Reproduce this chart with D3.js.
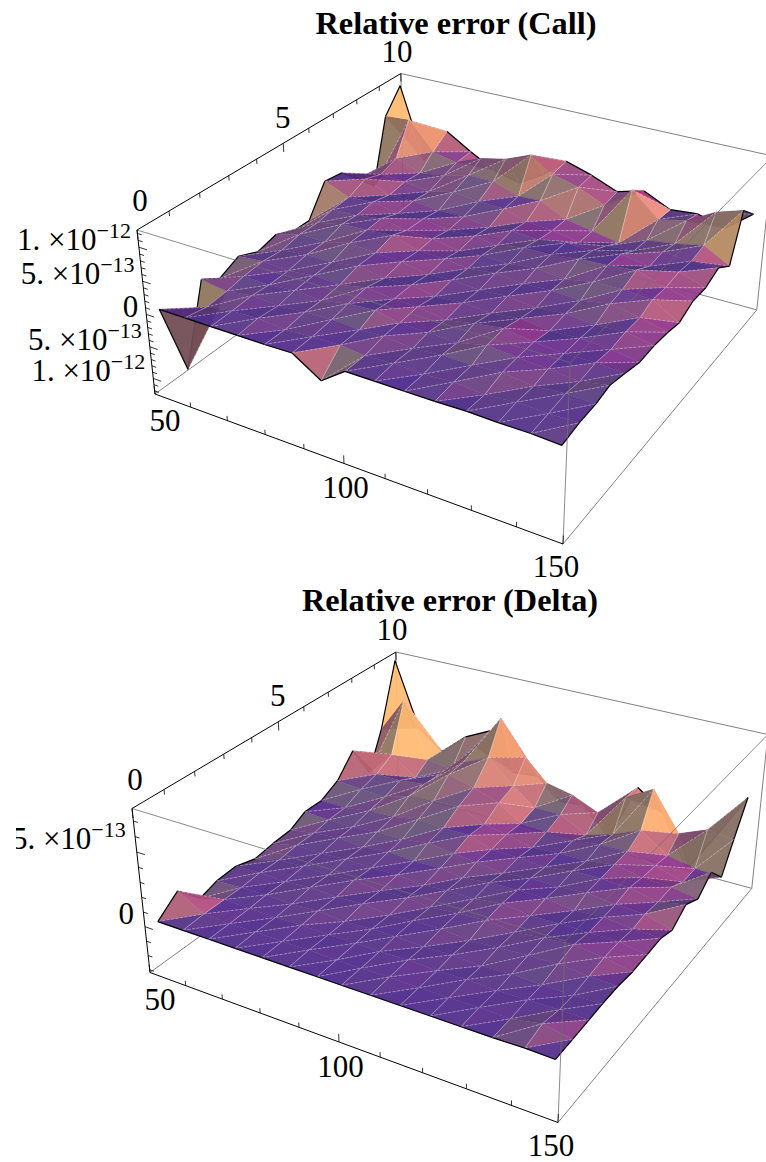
<!DOCTYPE html>
<html>
<head>
<meta charset="utf-8">
<script src="https://cdn.jsdelivr.net/npm/d3@7"></script>
<style>
  html, body { margin: 0; padding: 0; background: #fff; }
  svg { display: block; }
  text { font-family: "Liberation Serif", serif; fill: #000; }
</style>
</head>
<body>
<script>
// axis values of the grid points
var strikes = [51, 58, 65, 72, 79, 86, 93, 99, 106, 113, 120, 127, 134, 141, 147.5];
var maturities = [0.3, 1, 1.7, 2.3, 3, 3.7, 4.4, 5.1, 5.7, 6.4, 7.1, 7.8, 8.5, 9.1, 9.8];

// relative error in units of 1e-13, one row per maturity, front to back
var callErrors = [
  [0,0,0,0,0,.1,-2.6,0,0,0,0,.1,0,0,-.2],
  [-11.8,-.6,.1,.3,-.1,.2,.3,-.1,.2,0,.3,-.1,.3,.2,.3],
  [.3,-.3,.3,0,.3,.5,.3,.5,0,.4,.3,.7,.1,.5,.4],
  [-1.4,.2,.1,.5,.2,1,1.3,.5,.4,.2,1.2,.8,.5,.1,.9],
  [.1,.5,.2,.7,.5,1.3,.8,.7,0,.8,1.4,.7,.4,.4,.2],
  [-1.2,.2,.7,.7,1.3,.6,.8,.1,.4,.1,.6,.1,.3,0,-.6],
  [-.4,.8,.7,1.7,1.3,1.1,.3,.5,.2,.5,0,.4,0,.3,-.5],
  [-1.7,.7,1.6,1.8,2.1,.8,.7,.2,.7,.3,.5,.2,1,.2,-.8],
  [-1.7,1.2,1.4,2,1.2,1,.2,.5,.4,.9,.4,1.2,1.3,1,-1.3],
  [3,1.4,1.7,.9,1.1,.4,.6,.1,.9,1,1.5,1.7,2.2,.7,-.2],
  [2.6,2.6,1,1.1,.6,.7,.1,.5,.2,.8,.8,1.4,.7,1,-.3],
  [-.2,1.6,1.4,.8,1.8,1.3,1.2,0,-.3,-1.1,-.5,-.1,.9,.6,.7],
  [-3.3,2.6,1.1,1.7,2.8,2.8,1.4,1.6,-.4,-1.2,-2,-.4,.2,1.1,-1.1],
  [7.3,7.6,3.2,2.4,4.1,5,6.7,4.4,3.3,1.4,5,1.3,2.2,4.7,6],
  [11,-1,5,2.5,.3,-.8,1.7,4.8,3.5,1.8,3,1,1.4,.2,3.5]
];
var deltaErrors = [
  [0,0,0,0,0,0,0,0,0,0,0,0,0,.05,0],
  [1.1,.1,.02,.06,.02,.07,.03,.02,.08,.02,.03,.07,.02,.4,.05],
  [-.4,.1,.07,.02,.1,.04,.09,.06,.12,.04,.1,.03,.09,.12,.1],
  [0,.1,.16,.1,.2,.07,.15,.16,.08,.16,.06,.16,.1,.06,.15],
  [.1,.2,.12,.28,.18,.28,.1,.2,.24,.08,.22,.3,.38,.2,.15],
  [-.3,.14,.26,.2,.38,.2,.28,.12,.3,.4,.2,.42,.6,.36,0],
  [-.1,.3,.24,.38,.3,.36,.18,.3,.3,.56,.3,.36,.36,.34,.05],
  [0,.3,.46,.34,.5,.4,.44,.24,.46,.5,.48,.24,.36,.16,.1],
  [.6,.5,.5,.66,.64,.88,.68,.52,.3,.5,.44,.62,.38,.3,-.25],
  [.6,.55,.82,.88,1.2,1.1,1.08,.52,.46,.34,.62,.64,.56,.14,.5],
  [1.25,1.08,1,1.55,1.7,1.8,1,.7,.28,.38,.38,.68,.32,.18,-.1],
  [2.7,1.4,1.4,1.6,2.8,2.3,1.7,.6,.5,.4,.65,.7,.2,-.4,.8],
  [.25,2.1,.8,1.5,2.9,3.7,2.1,.9,.9,-.1,.5,1.3,0,-.4,-.5],
  [2.9,5.5,1.5,1.2,3.3,5.9,3.5,2,1.6,.8,2.4,3.5,.8,1.6,1.4],
  [7.4,2.7,1.3,2.9,3.8,1.1,1.3,-.2,0,-1.9,2.3,.9,-2.8,.4,3.5]
];

// tick labels
var strikeTicks = [50, 60, 70, 80, 90, 100, 110, 120, 130, 140, 150];
var strikeLabels = [50, 100, 150];
var maturityTicks = [0, 1, 2, 3, 4, 5, 6, 7, 8, 9, 10];
var maturityLabels = [0, 5, 10];
var callErrorTicks = [-12, -11, -10, -9, -8, -7, -6, -5, -4, -3, -2, -1, 0, 1, 2, 3, 4, 5, 6, 7, 8, 9, 10, 11, 12];
var deltaErrorTicks = [-3, -2, -1, 0, 1, 2, 3, 4, 5, 6, 7];
var callErrorLabels = [[10, "1.", "−12"], [5, "5.", "−13"], [0, "0", ""], [-5, "5.", "−13"], [-10, "1.", "−12"]];
var deltaErrorLabels = [[5, "5.", "−13"], [0, "0", ""]];

var w = 766, h = 1162;
var svg = d3.select("body").append("svg").attr("width", w).attr("height", h);

svg.append("clipPath").attr("id", "labelClip")
   .append("rect").attr("x", 16).attr("y", 0).attr("width", w).attr("height", h);

var xScale = d3.scaleLinear().domain([50, 150]).range([0, 1]);
var yScale = d3.scaleLinear().domain([0, 10]).range([0, 1]);

// perspective frame: corner points on screen and their weights
function frame(dx, dy) {
  var o = [155 + dx, 394 + dy], px = [563 + dx, 544 + dy], py = [403.5 + dx, 214 + dy], pz = [137 + dx, 230 + dy];
  var wx = 0.863, wy = 1.23, wz = 0.944;
  return function(a, b, c) {
    var k0 = 1 - a - b - c, kx = a * wx, ky = b * wy, kz = c * wz;
    var d = k0 + kx + ky + kz;
    return {
      x: (k0 * o[0] + kx * px[0] + ky * py[0] + kz * pz[0]) / d,
      y: (k0 * o[1] + kx * px[1] + ky * py[1] + kz * pz[1]) / d,
      depth: d
    };
  };
}

var line = d3.line().x(function(d) { return d.x; }).y(function(d) { return d.y; });

// rough stand-in for the default 3D lighting, from the facet slope in box coordinates
function pos(v) { return Math.max(0, v); }
function sat(v, k) { return 1 - Math.exp(-k * pos(v)); }
function facetColor(sx, sy) {
  var gx = sx * 0.879 + sy * 0.476;
  var gy = sx * 0.281 - sy * 0.518;
  var warm = gx + 0.5 * gy;
  var r = 0.30 + 0.42 * sat(warm, 4) + 0.2 * sat(-gx, 4) + 0.06 * sat(gy, 4) - 0.05 * sat(-gy, 6) + 0.3 * sat(warm - 0.55, 3);
  var g = 0.16 + 0.26 * sat(gy + 0.2 * gx, 3.5) + 0.14 * sat(-gx, 5) + 0.32 * sat(warm - 0.55, 3);
  var b = 0.55 - 0.1 * sat(gy, 4) - 0.14 * sat(-gy, 6) - 0.08 * sat(-gx, 5);
  g = Math.min(g, r * 0.82);
  return d3.rgb(Math.min(1, r) * 255, g * 255, b * 255).formatHex();
}

function drawChart(opt) {
  var project = frame(opt.dx, opt.dy);
  var zScale = d3.scaleLinear().domain(opt.zDomain).range([0, 1]);
  var g = svg.append("g");

  g.append("text").attr("x", opt.titleX).attr("y", opt.titleY)
    .attr("text-anchor", "middle").attr("font-weight", "bold").attr("font-size", 32)
    .attr("textLength", opt.titleLen).attr("lengthAdjust", "spacingAndGlyphs")
    .text(opt.title);

  function edge(a, b, color, opac) {
    g.append("path").attr("d", line([project.apply(null, a), project.apply(null, b)]))
      .attr("fill", "none").attr("stroke", color).attr("stroke-width", 1).attr("opacity", opac);
  }
  // edges behind the surface
  edge([0,1,0],[0,1,1],"#808080",1);
  edge([0,0,0],[0,1,0],"#808080",1);
  edge([0,1,0],[1,1,0],"#808080",1);
  edge([0,1,1],[1,1,1],"#808080",1);
  edge([1,1,0],[1,1,1],"#808080",1);
  edge([1,0,0],[1,1,0],"#808080",1);

  // grid points
  var pts = opt.rows.map(function(row, j) {
    return row.map(function(v, i) {
      var a = xScale(strikes[i]), b = yScale(maturities[j]), c = zScale(v);
      var p = project(a, b, c);
      p.a = a; p.b = b; p.c = c * 0.4;
      return p;
    });
  });

  var tris = [];
  var n = strikes.length, m = maturities.length;
  function addTri(p, q, r, mesh, border) {
    // plane through the three points, box ratio 1:1:0.4
    var ux = q.a - p.a, uy = q.b - p.b, uz = q.c - p.c;
    var vx = r.a - p.a, vy = r.b - p.b, vz = r.c - p.c;
    var nx = uy * vz - uz * vy, ny = uz * vx - ux * vz, nz = ux * vy - uy * vx;
    tris.push({
      pts: [p, q, r], mesh: mesh, border: border,
      fill: facetColor(nx / nz, ny / nz),
      depth: (p.depth + q.depth + r.depth) / 3
    });
  }
  for (var j = 0; j < m - 1; j++) {
    for (var i = 0; i < n - 1; i++) {
      var p00 = pts[j][i], p10 = pts[j][i + 1], p01 = pts[j + 1][i], p11 = pts[j + 1][i + 1];
      var lowB = [], upB = [];
      if (j === 0) lowB.push([p00, p10]);
      if (i === n - 2) lowB.push([p10, p11]);
      if (i === 0) upB.push([p00, p01]);
      if (j === m - 2) upB.push([p01, p11]);
      addTri(p00, p10, p11, [[p10, p11, false], [p00, p11, true]], lowB);
      addTri(p00, p11, p01, [[p00, p01, false], [p00, p11, true]], upB);
    }
  }
  tris.sort(function(a, b) { return b.depth - a.depth; });

  var surf = g.append("g");
  tris.forEach(function(t) {
    surf.append("path")
      .attr("d", line(t.pts) + "Z")
      .attr("fill", t.fill).attr("fill-opacity", 0.94)
      .attr("stroke", t.fill).attr("stroke-width", 0.3);
    t.mesh.forEach(function(s) {
      surf.append("path").attr("d", line(s.slice(0, 2)))
        .attr("fill", "none").attr("stroke", "#fff").attr("stroke-opacity", 0.36)
        .attr("stroke-width", 0.8).attr("stroke-dasharray", s[2] ? "3,1.5" : null);
    });
    t.border.forEach(function(s) {
      surf.append("path").attr("d", line(s))
        .attr("fill", "none").attr("stroke", "#000").attr("stroke-width", 1.2);
    });
  });

  // edges in front of the surface
  edge([0,0,1],[1,0,1],"#6e6e6e",0.8);
  edge([1,0,1],[1,1,1],"#6e6e6e",0.8);
  edge([1,0,0],[1,0,1],"#6e6e6e",0.8);

  // axes
  edge([0,0,0],[1,0,0],"#000",1);
  edge([0,1,1],[0,0,1],"#000",1);
  edge([0,0,0],[0,0,1],"#000",1);

  function tick(a, b) {
    g.append("path").attr("d", line([project.apply(null, a), project.apply(null, b)]))
      .attr("fill", "none").attr("stroke", "#000").attr("stroke-width", 0.8);
  }
  strikeTicks.forEach(function(t) {
    var a = xScale(t), len = strikeLabels.indexOf(t) >= 0 ? 0.05 : 0.03;
    tick([a, 0, 0], [a, 0, len]);
  });
  maturityTicks.forEach(function(t) {
    var b = yScale(t), len = maturityLabels.indexOf(t) >= 0 ? 0.055 : 0.03;
    tick([0, b, 1], [0, b, 1 - len]);
  });
  opt.zTicks.forEach(function(t) {
    var c = zScale(t), len = t % 5 === 0 ? 0.022 : 0.012;
    tick([0, 0, c], [len, 0, c]);
  });

  // labels
  function numberLabel(p, text) {
    g.append("text").attr("x", p.x).attr("y", p.y).attr("text-anchor", "middle")
      .attr("font-size", 31).text(text);
  }
  var strikeShiftX = d3.scaleLinear().domain([50, 150]).range([10, -7]);
  var strikeShiftY = d3.scaleLinear().domain([50, 150]).range([37, 33]);
  strikeLabels.forEach(function(t) {
    var p = project(xScale(t), 0, 0);
    numberLabel({ x: p.x + strikeShiftX(t), y: p.y + strikeShiftY(t) }, t);
  });
  var matShiftX = d3.scaleLinear().domain([0, 10]).range([3, -4]);
  var matShiftY = d3.scaleLinear().domain([0, 10]).range([-19, -12]);
  maturityLabels.forEach(function(t) {
    var p = project(0, yScale(t), 1);
    numberLabel({ x: p.x + matShiftX(t), y: p.y + matShiftY(t) }, t);
  });

  var zg = g.append("g").attr("clip-path", "url(#labelClip)");
  opt.zLabels.forEach(function(l) {
    var p = project(0, 0, zScale(l[0]));
    var txt = zg.append("text").attr("x", p.x - opt.zLabelGap).attr("y", p.y + opt.zLabelDy).attr("text-anchor", "end")
      .attr("font-size", 31);
    if (l[2] === "") {
      txt.text(l[1]);
    } else {
      txt.append("tspan").text(l[1] + " ×10");
      txt.append("tspan").attr("dy", -12).attr("font-size", 22).text(l[2]);
    }
  });
}

drawChart({
  title: "Relative error (Call)", titleX: 456, titleY: 34, titleLen: 281,
  rows: callErrors, zDomain: [-12.5, 12.5], zTicks: callErrorTicks, zLabels: callErrorLabels,
  dx: 0, dy: 0, zLabelDy: 3, zLabelGap: 8
});
drawChart({
  title: "Relative error (Delta)", titleX: 450, titleY: 611, titleLen: 296,
  rows: deltaErrors, zDomain: [-3.2, 7.8], zTicks: deltaErrorTicks, zLabels: deltaErrorLabels,
  dx: -5, dy: 578.5, zLabelDy: -3, zLabelGap: 11
});
</script>
</body>
</html>
